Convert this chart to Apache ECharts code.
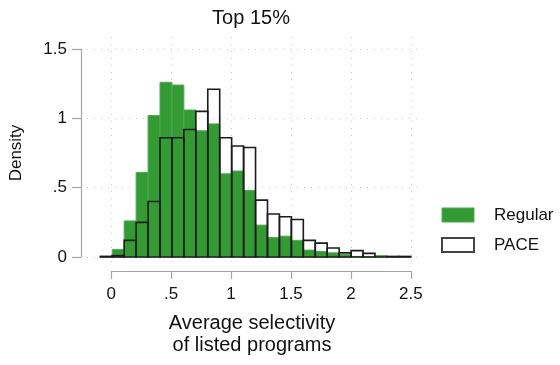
<!DOCTYPE html>
<html>
<head>
<meta charset="utf-8">
<script src="https://cdn.jsdelivr.net/npm/echarts@6/dist/echarts.min.js"></script>
<style>
  html, body { margin: 0; padding: 0; background: #fff; }
  #chart { width: 560px; height: 365px; }
</style>
</head>
<body>
<div id="chart"></div>
<script>
// Histogram bins: left edge of each bin (width 0.1)
const binLefts = [-0.1, 0.0, 0.1, 0.2, 0.3, 0.4, 0.5, 0.6, 0.7, 0.8, 0.9, 1.0, 1.1, 1.2,
                  1.3, 1.4, 1.5, 1.6, 1.7, 1.8, 1.9, 2.0, 2.1, 2.2, 2.3, 2.4];
const binWidth = 0.1;

// Density per bin
const regularDensity = [0.005, 0.055, 0.26, 0.61, 1.02, 1.26, 1.24, 1.06, 0.91, 0.96, 0.60, 0.62, 0.48, 0.23,
                        0.14, 0.15, 0.12, 0.05, 0.04, 0.03, 0.017, 0.004, 0.002, 0.01, 0.003, 0.003];
const paceDensity    = [0.004, 0.01, 0.12, 0.25, 0.40, 0.86, 0.86, 0.92, 1.05, 1.21, 0.86, 0.80, 0.79, 0.41,
                        0.31, 0.29, 0.27, 0.12, 0.10, 0.065, 0.03, 0.046, 0.026, 0, 0.004, 0.004];

// Axis ticks and labels
const xTicks = [0, 0.5, 1, 1.5, 2, 2.5];
const xTickLabels = ['0', '.5', '1', '1.5', '2', '2.5'];
const yTicks = [0, 0.5, 1, 1.5];
const yTickLabels = ['0', '.5', '1', '1.5'];

const chartTitle = 'Top 15%';
const xTitle = 'Average selectivity\nof listed programs';
const yTitle = 'Density';
const seriesNames = ['Regular', 'PACE'];

const GREEN = '#349a34';
const GREEN_EDGE = '#4fab4f';
const OUTLINE = '#1c1c1c';
const FONT = '"Liberation Sans", Arial, sans-serif';

function toBins(values) {
  return binLefts.map((l, i) => [l, +(l + binWidth).toFixed(2), values[i]]);
}

function labelFor(ticks, labels) {
  return v => {
    const i = ticks.findIndex(t => Math.abs(t - v) < 1e-9);
    return i >= 0 ? labels[i] : '';
  };
}

function barRenderer(fill, stroke, width) {
  return function (params, api) {
    const topLeft = api.coord([api.value(0), api.value(2)]);
    const botRight = api.coord([api.value(1), 0]);
    return {
      type: 'rect',
      shape: {
        x: topLeft[0], y: topLeft[1],
        width: botRight[0] - topLeft[0],
        height: botRight[1] - topLeft[1]
      },
      style: { fill: fill, stroke: stroke, lineWidth: width }
    };
  };
}

const dotted = { color: '#c9c9c9', width: 1, type: [1, 6] };
const axisGray = { color: '#a6a6a6', width: 1.2 };

const chart = echarts.init(document.getElementById('chart'), null, { renderer: 'canvas' });

chart.setOption({
  backgroundColor: '#fff',
  animation: false,
  textStyle: { fontFamily: FONT },
  title: {
    text: chartTitle,
    left: 251, top: 8, padding: 0,
    textAlign: 'center',
    textStyle: { fontFamily: FONT, fontSize: 20, fontWeight: 'normal', color: '#111', lineHeight: 20 }
  },
  legend: {
    orient: 'vertical',
    left: 441, top: 205,
    itemWidth: 32, itemHeight: 14, itemGap: 10,
    padding: 0,
    selectedMode: false,
    textStyle: { fontFamily: FONT, fontSize: 17, color: '#111', lineHeight: 20, padding: [0, 0, 0, 15] },
    data: [
      { name: seriesNames[0], icon: 'rect', itemStyle: { color: GREEN, borderColor: GREEN_EDGE, borderWidth: 1 } },
      { name: seriesNames[1], icon: 'rect', itemStyle: { color: '#fff', borderColor: '#444', borderWidth: 2 } }
    ]
  },
  grid: [
    // plot area for bars and y axis
    { left: 86, top: 49, width: 331, height: 208 },
    // frame for the x axis ticks and vertical grid lines
    { left: 111.3, top: 37, width: 299.5, height: 228 }
  ],
  xAxis: [
    {
      type: 'value', gridIndex: 0,
      min: -0.2112, max: 2.5518,
      axisLine: { show: false, onZero: false }, axisTick: { show: false },
      axisLabel: { show: false }, splitLine: { show: false },
      name: xTitle, nameLocation: 'middle', nameGap: 55,
      nameTextStyle: { fontFamily: FONT, fontSize: 20, color: '#111', lineHeight: 22 }
    },
    {
      type: 'value', gridIndex: 1,
      min: 0, max: 2.5, interval: 0.5,
      offset: 6,
      axisLine: { show: true, onZero: false, lineStyle: axisGray },
      axisTick: { show: true, length: 8, lineStyle: axisGray },
      axisLabel: { fontFamily: FONT, fontSize: 17, color: '#111', margin: 15,
                   formatter: labelFor(xTicks, xTickLabels) },
      splitLine: { show: true, lineStyle: dotted }
    }
  ],
  yAxis: [
    {
      type: 'value', gridIndex: 0,
      min: 0, max: 1.5, interval: 0.5,
      offset: 6,
      axisLine: { show: true, onZero: false, lineStyle: axisGray },
      axisTick: { show: true, length: 9, lineStyle: axisGray },
      axisLabel: { fontFamily: FONT, fontSize: 17, color: '#111', margin: 14,
                   formatter: labelFor(yTicks, yTickLabels) },
      splitLine: { show: true, lineStyle: dotted },
      name: yTitle, nameLocation: 'middle', nameGap: 56,
      nameTextStyle: { fontFamily: FONT, fontSize: 17, color: '#111' }
    },
    {
      type: 'value', gridIndex: 1, min: 0, max: 1, show: false
    }
  ],
  series: [
    {
      name: seriesNames[0],
      type: 'custom',
      xAxisIndex: 0, yAxisIndex: 0,
      clip: false,
      z: 3,
      itemStyle: { color: GREEN },
      renderItem: barRenderer(GREEN, GREEN_EDGE, 1),
      encode: { x: [0, 1], y: 2 },
      data: toBins(regularDensity)
    },
    {
      name: seriesNames[1],
      type: 'custom',
      xAxisIndex: 0, yAxisIndex: 0,
      clip: false,
      z: 4,
      itemStyle: { color: '#fff' },
      renderItem: barRenderer('none', OUTLINE, 1.6),
      encode: { x: [0, 1], y: 2 },
      data: toBins(paceDensity)
    }
  ]
});
</script>
</body>
</html>
